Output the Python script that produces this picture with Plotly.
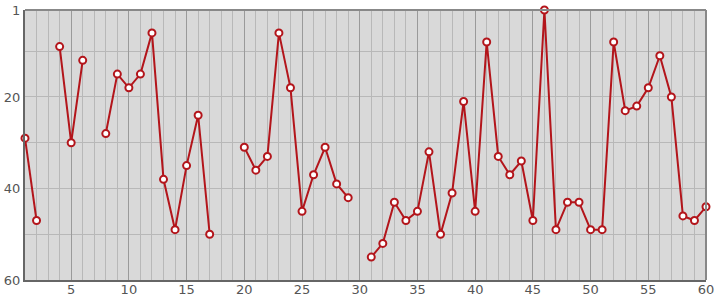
import plotly.graph_objects as go

x_vals = list(range(1, 61))
ranks = [29, 47, None, 9, 30, 12, None, 28, 15, 18,
         15, 6, 38, 49, 35, 24, 50, None, None, 31,
         36, 33, 6, 18, 45, 37, 31, 39, 42, None,
         55, 52, 43, 47, 45, 32, 50, 41, 21, 45,
         8, 33, 37, 34, 47, 1, 49, 43, 43, 49,
         49, 8, 23, 22, 18, 11, 20, 46, 47, 44]
y_ticks = [1, 20, 40, 60]

fig = go.Figure()
fig.add_trace(go.Scatter(
    x=x_vals, y=ranks, mode="lines+markers", connectgaps=False,
    line=dict(color="#b3151b", width=2),
    marker=dict(symbol="circle", size=7, color="white",
                line=dict(color="#b3151b", width=2)),
    cliponaxis=False, hoverinfo="x+y",
))

fig.update_layout(
    width=715, height=300,
    margin=dict(l=25, r=9, t=10, b=20),
    paper_bgcolor="white", plot_bgcolor="#d9d9d9",
    showlegend=False,
    font=dict(family="DejaVu Sans", size=13, color="#555555"),
    xaxis=dict(range=[1, 60], tick0=5, dtick=5, showgrid=True,
               gridcolor="#9a9a9a", gridwidth=1, zeroline=False,
               ticks="", ticklen=0, automargin=False, ticklabelstandoff=-4,
               showline=True, linecolor="#666666", linewidth=2,
               minor=dict(dtick=1, tick0=0, showgrid=True,
                          gridcolor="#b8b8b8", gridwidth=1)),
    yaxis=dict(range=[60, 1], tickvals=y_ticks, showgrid=False,
               zeroline=False, ticks="", ticklen=0, automargin=False,
               showline=True, linecolor="#666666", linewidth=2,
               minor=dict(tick0=0, dtick=10, showgrid=True,
                          gridcolor="#b8b8b8", gridwidth=1)),
    shapes=[
        dict(type="line", xref="paper", yref="paper", x0=0, x1=1, y0=1, y1=1,
             line=dict(color="#888888", width=2)),
        dict(type="line", xref="paper", yref="paper", x0=1, x1=1, y0=0, y1=1,
             line=dict(color="#888888", width=2)),
    ],
)

fig.write_html("out.html")
